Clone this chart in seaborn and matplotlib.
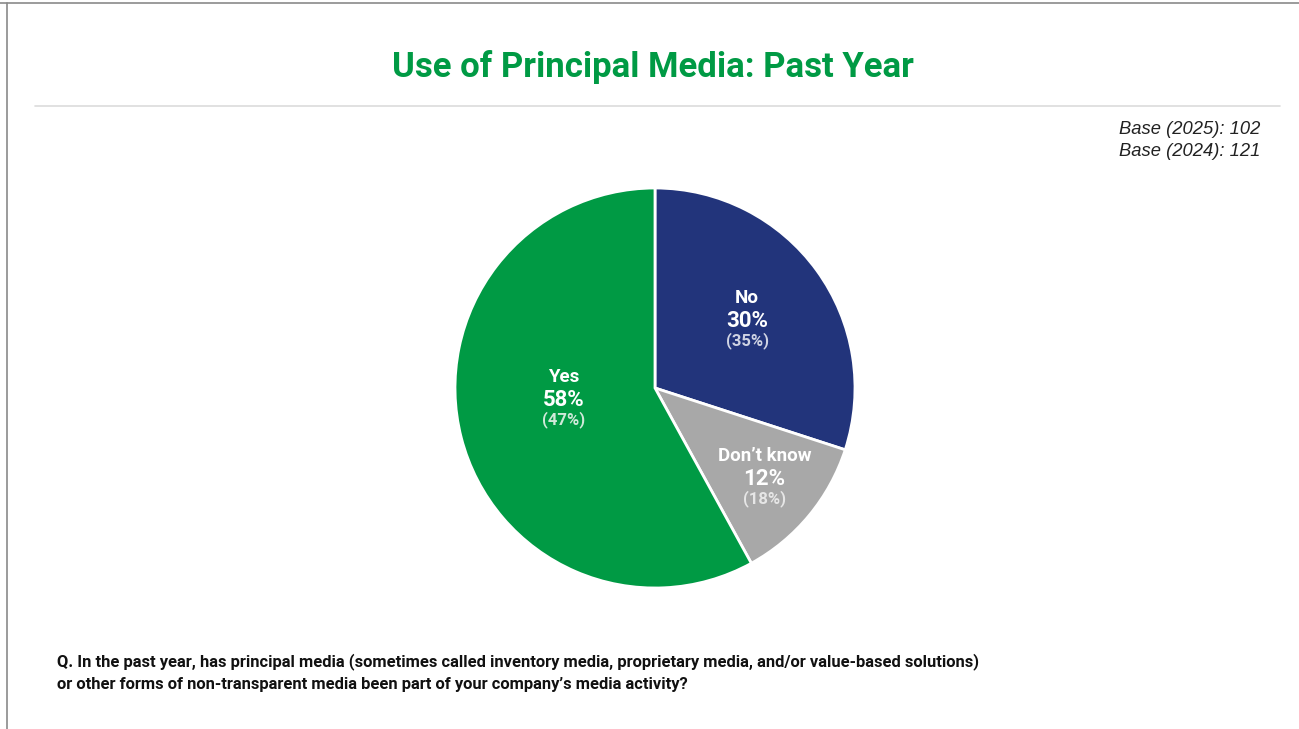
import numpy as np
import matplotlib
matplotlib.use("Agg")
import matplotlib.pyplot as plt
from matplotlib.lines import Line2D
import seaborn as sns

# Survey shares, 2025 (wedge sizes) and 2024 (shown in brackets)
categories = ["No", "Don\u2019t know", "Yes"]
share_2025 = [30, 12, 58]
share_2024 = [35, 18, 47]
base_labels = ["Base (2025): 102", "Base (2024): 121"]

sns.set_theme(style="white")
COND = ["Roboto", "DejaVu Sans"]
REG = ["Liberation Sans", "DejaVu Sans"]
plt.rcParams["font.family"] = REG

GREEN = "#009A44"
NAVY = "#22347B"
GREY = "#A8A8A8"
colors = [NAVY, GREY, GREEN]

W, H = 1299, 729
fig = plt.figure(figsize=(W / 100, H / 100), dpi=100)
fig.patch.set_facecolor("white")

# frame lines on top and left
fig.add_artist(Line2D([0, 1], [1 - 3 / H, 1 - 3 / H], color="#8a8a8a", lw=1.2))
fig.add_artist(Line2D([7 / W, 7 / W], [0, 1 - 3 / H], color="#8a8a8a", lw=1.2))
# separator under the title
fig.add_artist(Line2D([35 / W, 1280 / W], [1 - 106 / H, 1 - 106 / H], color="#dcdcdc", lw=1.2))

fig.text(653 / W, 1 - 67 / H, "Use of Principal Media: Past Year", ha="center", va="center",
         color=GREEN, fontsize=25, fontweight="bold", family=COND)

for i, t in enumerate(base_labels):
    fig.text(1260 / W, 1 - (130 + 21 * i) / H, t, ha="right", va="center",
             fontsize=13.2, style="italic", color="#222222", family=REG)

# pie axes: centre (655, 388), radius 200 px
cx, cy, r = 655, 388, 200
ax = fig.add_axes([(cx - r) / W, 1 - (cy + r) / H, 2 * r / W, 2 * r / H])
wedges, _ = ax.pie(share_2025, colors=colors, startangle=90, counterclock=False,
                   radius=1, wedgeprops=dict(edgecolor="white", linewidth=2))
ax.set_xlim(-1, 1)
ax.set_ylim(-1, 1)
ax.set_aspect("equal")
ax.axis("off")

label_r = [0.57, 0.71, 0.46]
angle_nudge = [0, 0, -7]
sub_colors = ["#cfd3e3", "#e6e6e6", "#cfe9d9"]
for w, name, v25, v24, lr, nd, sc in zip(wedges, categories, share_2025, share_2024,
                                         label_r, angle_nudge, sub_colors):
    mid = np.deg2rad((w.theta1 + w.theta2) / 2 + nd)
    x, y = lr * np.cos(mid), lr * np.sin(mid)
    ax.text(x, y + 0.115, name, ha="center", va="center", color="white",
            fontsize=13.5, fontweight="bold", family=COND)
    ax.text(x, y, f"{v25}%", ha="center", va="center", color="white",
            fontsize=16, fontweight="bold", family=COND)
    ax.text(x, y - 0.10, f"({v24}%)", ha="center", va="center", color=sc,
            fontsize=12, fontweight="bold", family=COND)

question = ("Q. In the past year, has principal media (sometimes called inventory media, proprietary media, and/or value-based solutions)\n"
            "or other forms of non-transparent media been part of your company\u2019s media activity?")
fig.text(57 / W, 1 - 653 / H, question, ha="left", va="top", fontsize=11.9,
         fontweight="bold", color="#111111", family=COND, linespacing=1.6)

fig.savefig("out.png", dpi=100, facecolor="white")
